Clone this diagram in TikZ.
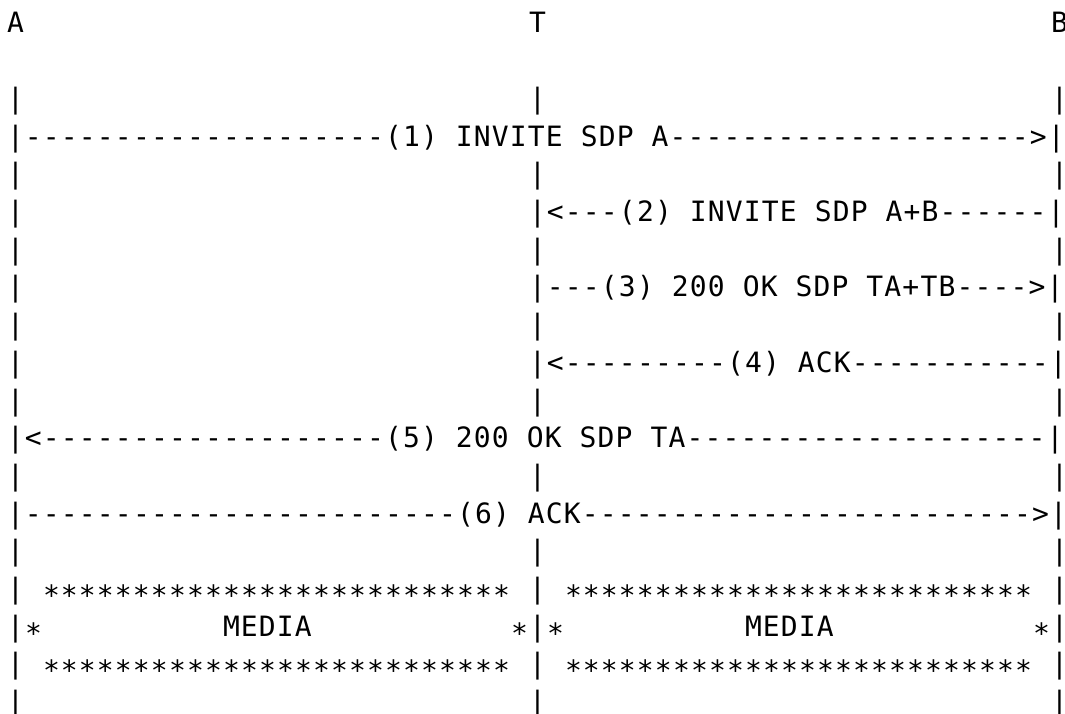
\documentclass[tikz,border=0pt]{standalone}
\usepackage{fontspec}
\setmonofont{DejaVu Sans Mono}[LetterSpace=4.1]

% grid of the character cells
\newcommand{\colpos}[1]{7+18*(#1)}
\newcommand{\rowpos}[1]{33+37.7*(#1)}

\begin{document}
\begin{tikzpicture}[
  x=1pt, y=-1pt,
  ascii/.style={anchor=base west, inner sep=0pt, outer sep=0pt,
                font=\fontsize{28}{28}\selectfont\ttfamily},
  starline/.style={ascii, yshift=-7pt},
]
  \useasboundingbox[fill=white] (0,0) rectangle (1065,714);
  % parties
  \node[ascii] (partyA) at ({\colpos{0}},{\rowpos{0}}) {A};
  \node[ascii] (partyT) at ({\colpos{29}},{\rowpos{0}}) {T};
  \node[ascii] (partyB) at ({\colpos{58}},{\rowpos{0}}) {B};
  % life lines
  \foreach \r in {2,4,...,18,15,17}
    \foreach \c in {0,29,58}
      \node[ascii] (bar-\r-\c) at ({\colpos{\c}},{\rowpos{\r}}) {|};
  \foreach \r in {5,7,9}
    \node[ascii] (bar-\r-0) at ({\colpos{0}},{\rowpos{\r}}) {|};
  % messages
  \node[ascii] (msg1) at ({\colpos{0}},{\rowpos{3}})  {|--------------------(1) INVITE SDP A-------------------->|};
  \node[ascii] (msg2) at ({\colpos{29}},{\rowpos{5}}) {|<---(2) INVITE SDP A+B------|};
  \node[ascii] (msg3) at ({\colpos{29}},{\rowpos{7}}) {|---(3) 200 OK SDP TA+TB---->|};
  \node[ascii] (msg4) at ({\colpos{29}},{\rowpos{9}}) {|<---------(4) ACK-----------|};
  \node[ascii] (msg5) at ({\colpos{0}},{\rowpos{11}}) {|<-------------------(5) 200 OK SDP TA--------------------|};
  \node[ascii] (msg6) at ({\colpos{0}},{\rowpos{13}}) {|------------------------(6) ACK------------------------->|};
  % media boxes
  \foreach \r in {15,17}
    \foreach \c in {2,31}
      \node[starline] (stars-\r-\c) at ({\colpos{\c}},{\rowpos{\r}}) {**************************};
  \foreach \c in {1,28,30,57}
    \node[starline] (side-\c) at ({\colpos{\c}},{\rowpos{16}}) {*};
  \node[ascii] (mediaAT) at ({\colpos{12}},{\rowpos{16}}) {MEDIA};
  \node[ascii] (mediaTB) at ({\colpos{41}},{\rowpos{16}}) {MEDIA};
\end{tikzpicture}
\end{document}
